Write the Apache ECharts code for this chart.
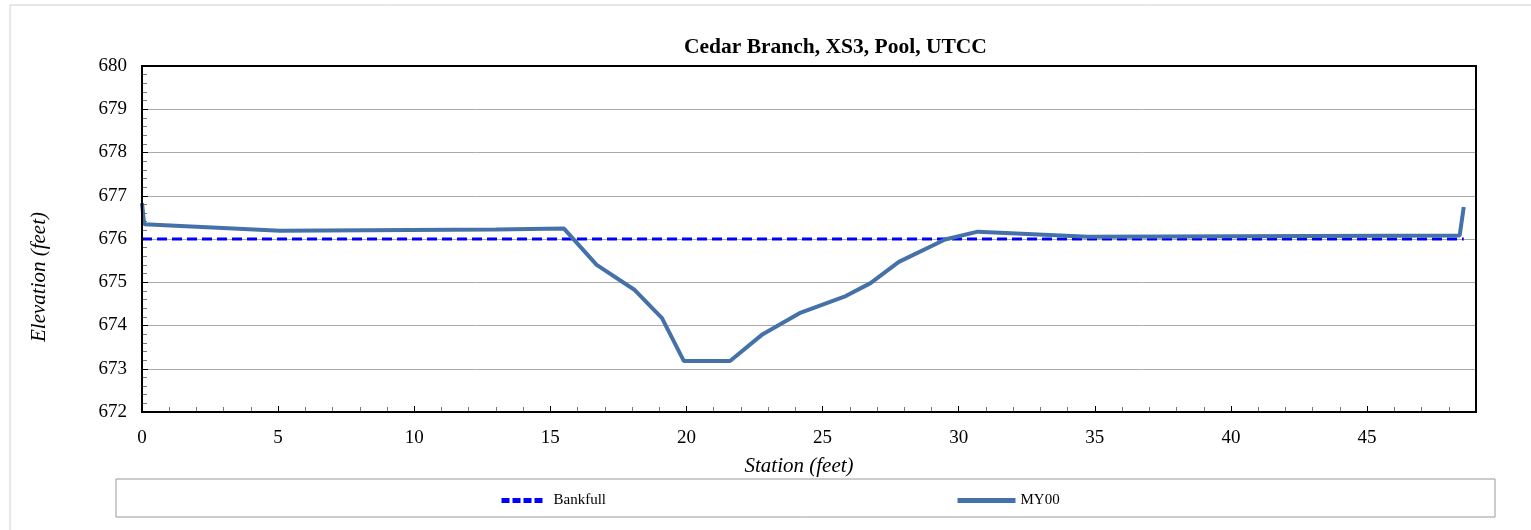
<!DOCTYPE html>
<html lang="en">
  <head>
    <meta charset="UTF-8" />
    <title>Cedar Branch, XS3, Pool, UTCC</title>
    <script src="https://cdn.jsdelivr.net/npm/echarts@6/dist/echarts.min.js"></script>
    <style>
      html, body { margin: 0; padding: 0; background: #fff; }
      #main { width: 1531px; height: 530px; }
    </style>
  </head>
  <body>
    <div id="main"></div>

    <script>
      // station (ft) / elevation (ft)
      const stations = [0, 0.08, 5.07, 13.0, 15.5, 16.7, 18.1, 19.1, 19.9, 21.6, 22.8, 24.2, 25.85, 26.76, 27.8, 29.5, 30.7, 34.75, 48.4, 48.55];
      const elevations = [676.83, 676.34, 676.19, 676.22, 676.24, 675.4, 674.82, 674.17, 673.18, 673.18, 673.8, 674.3, 674.68, 674.98, 675.47, 675.99, 676.17, 676.05, 676.08, 676.74];
      const bankfullStations = [0, 48.55];
      const bankfullElevation = 676.0;

      const font = '"Liberation Serif", "Times New Roman", serif';

      const myData = stations.map((s, i) => [s, elevations[i]]);
      const bankData = bankfullStations.map((s) => [s, bankfullElevation]);

      var myChart = echarts.init(document.querySelector('#main'));

      const options = {
        animation: false,
        backgroundColor: '#fff',
        title: {
          text: 'Cedar Branch, XS3, Pool, UTCC',
          left: 679,
          top: 31,
          textStyle: { fontFamily: font, fontSize: 21.5, fontWeight: 'bold', color: '#000' },
        },
        grid: { left: 142, right: 55, top: 66, bottom: 118 },
        legend: [
          {
            data: ['Bankfull'],
            left: 494,
            top: 488,
            itemWidth: 42,
            itemHeight: 14,
            itemStyle: { opacity: 0 },
            lineStyle: { width: 5, type: [8, 3] },
            textStyle: { fontFamily: font, fontSize: 15, color: '#000', padding: [0, 0, 0, 5] },
          },
          {
            data: ['MY00'],
            left: 950,
            top: 488,
            itemWidth: 58,
            itemHeight: 14,
            itemStyle: { opacity: 0 },
            lineStyle: { width: 5 },
            textStyle: { fontFamily: font, fontSize: 15, color: '#000', padding: [0, 0, 0, 0] },
          },
        ],
        xAxis: {
          type: 'value',
          min: 0,
          max: 49,
          interval: 5,
          name: 'Station (feet)',
          nameLocation: 'middle',
          nameGap: 44,
          nameTextStyle: {
            fontFamily: font, fontSize: 21, fontStyle: 'italic', color: '#000',
            padding: [0, 20, 0, 0],
          },
          axisLine: { onZero: false, lineStyle: { color: '#000', width: 2 } },
          axisTick: { show: true, inside: true, length: 6, lineStyle: { color: '#000' } },
          minorTick: { show: true, splitNumber: 5, length: 5, lineStyle: { color: '#777' } },
          axisLabel: {
            fontFamily: font, fontSize: 19, color: '#000', margin: 17,
            showMaxLabel: false,
          },
          splitLine: { show: false },
        },
        yAxis: {
          type: 'value',
          min: 672,
          max: 680,
          interval: 1,
          name: 'Elevation (feet)',
          nameLocation: 'middle',
          nameGap: 92,
          nameTextStyle: {
            fontFamily: font, fontSize: 21, fontStyle: 'italic', color: '#000',
            padding: [0, 76, 0, 0],
          },
          axisLine: { lineStyle: { color: '#000', width: 2 } },
          axisTick: { show: true, inside: true, length: 6, lineStyle: { color: '#000' } },
          minorTick: { show: true, splitNumber: 5, length: 5, lineStyle: { color: '#777' } },
          axisLabel: { fontFamily: font, fontSize: 19, color: '#000', margin: 15 },
          splitLine: { show: true, lineStyle: { color: '#aaa', width: 1 } },
        },
        series: [
          {
            name: 'Bankfull',
            type: 'line',
            data: bankData,
            symbol: 'none',
            lineStyle: { color: '#0000ff', width: 3, type: [10, 5] },
            itemStyle: { color: '#0000ff' },
            z: 3,
          },
          {
            name: 'MY00',
            type: 'line',
            data: myData,
            symbol: 'none',
            lineStyle: { color: '#4472a8', width: 4 },
            itemStyle: { color: '#4472a8' },
            z: 4,
          },
        ],
        graphic: [
          {
            type: 'rect',
            shape: { x: 10, y: 5, width: 1540, height: 540 },
            style: { fill: 'none', stroke: '#d0d0d0', lineWidth: 1 },
            silent: true,
          },
          {
            type: 'rect',
            shape: { x: 142, y: 66, width: 1334, height: 346 },
            style: { fill: 'none', stroke: '#000', lineWidth: 2 },
            silent: true,
            z: 10,
          },
          {
            type: 'rect',
            shape: { x: 116, y: 479, width: 1379, height: 38 },
            style: { fill: 'none', stroke: '#999', lineWidth: 1 },
            silent: true,
          },
        ],
      };

      myChart.setOption(options);

      window.onresize = function () {
        myChart.resize();
      };
    </script>
  </body>
</html>
